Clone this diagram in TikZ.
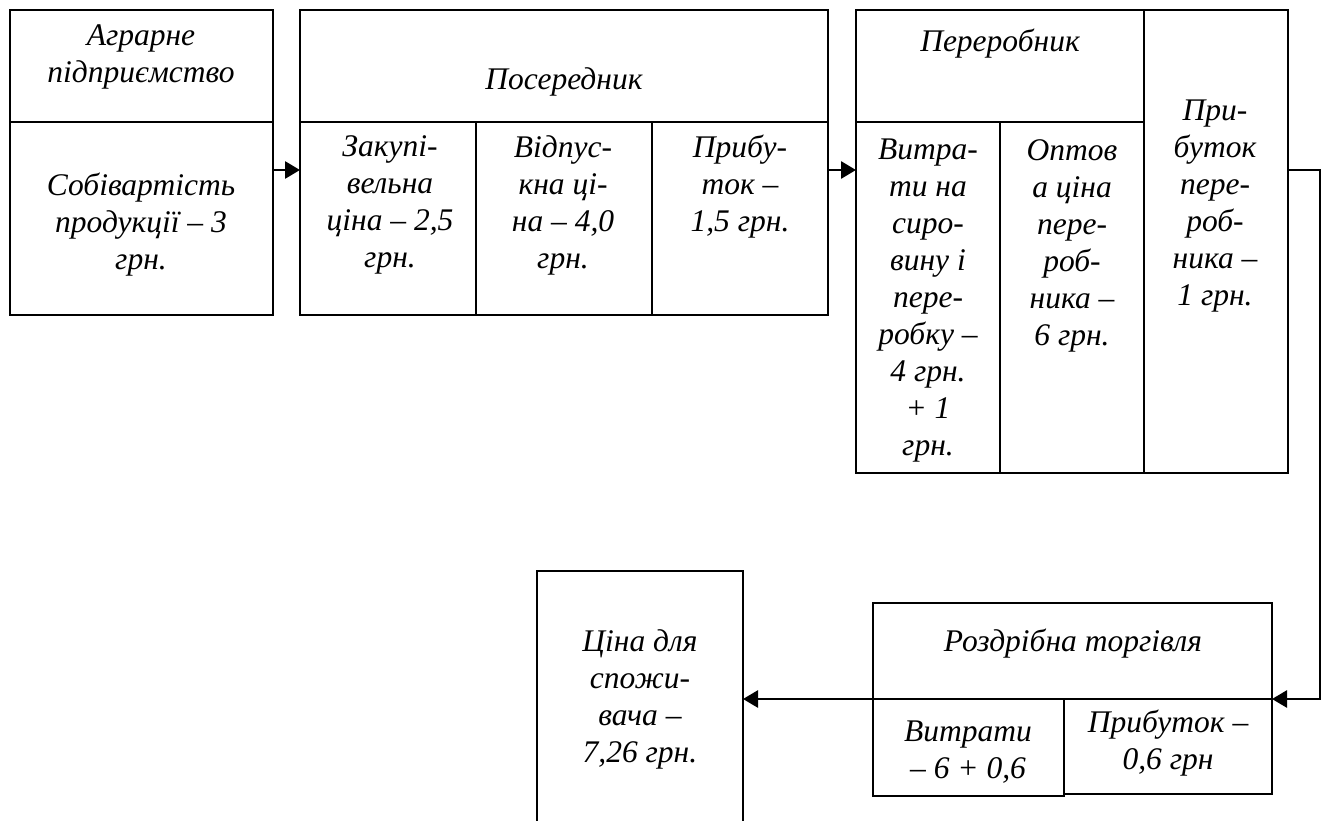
\documentclass[tikz,border=0pt]{standalone}
\usepackage{fontspec}
\setmainfont{Liberation Serif}
\usetikzlibrary{arrows.meta}
\tikzset{
  cell/.style={draw, line width=2pt, inner sep=0pt, outer sep=0pt},
  txt/.style={inner sep=0pt, align=center, font=\itshape\fontsize{31.5}{37}\selectfont},
  conn/.style={line width=2.8pt, -{Triangle[length=15pt,width=17pt]}}
}
\newcommand{\cellbox}[5]{% name, x1, y1, x2, y2
  \node[cell, minimum width={#4-#2}, minimum height={#5-#3}] (#1) at ({(#2+#4)/2},{(#3+#5)/2}) {};}
\begin{document}
\begin{tikzpicture}[x=1pt,y=-1pt]
\useasboundingbox[fill=white] (0,0) rectangle (1327,821);
% Agrarian enterprise
\cellbox{Ah}{10}{10}{273}{122}
\cellbox{Ab}{10}{122}{273}{315}
% Intermediary
\cellbox{Ph}{300}{10}{828}{122}
\cellbox{P1}{300}{122}{476}{315}
\cellbox{P2}{476}{122}{652}{315}
\cellbox{P3}{652}{122}{828}{315}
% Processor
\cellbox{Rh}{856}{10}{1144}{122}
\cellbox{R1}{856}{122}{1000}{473}
\cellbox{R2}{1000}{122}{1144}{473}
\cellbox{R3}{1144}{10}{1288}{473}
% Retail
\cellbox{Th}{873}{603}{1272}{699}
\cellbox{T1}{873}{699}{1064}{796}
\cellbox{T2}{1064}{699}{1272}{794}
% Consumer (open at bottom, cut by page)
\cellbox{C}{537}{571}{743}{860}

% texts
\node[txt] (tAh) at (141,57) {Аграрне\\підприємство};
\node[txt] (tAb) at (141,225) {Собівартість\\продукції – 3\\грн.};
\node[txt] (tPh) at (564,82) {Посередник};
\node[txt] (tP1) at (390,205) {Закупі-\\вельна\\ціна – 2,5\\грн.};
\node[txt] (tP2) at (563,205) {Відпус-\\кна ці-\\на – 4,0\\грн.};
\node[txt] (tP3) at (740,187) {Прибу-\\ток –\\1,5 грн.};
\node[txt] (tRh) at (1000,44) {Переробник};
\node[txt] (tR1) at (928,301) {Витра-\\ти на\\сиро-\\вину і\\пере-\\робку –\\4 грн.\\+ 1\\грн.};
\node[txt] (tR2) at (1072,246) {Оптов\\а ціна\\пере-\\роб-\\ника –\\6 грн.};
\node[txt] (tR3) at (1215,206) {При-\\буток\\пере-\\роб-\\ника –\\1 грн.};
\node[txt] (tTh) at (1073,644) {Роздрібна торгівля};
\node[txt] (tT1) at (968,752) {Витрати\\– 6 + 0,6};
\node[txt] (tT2) at (1168,743) {Прибуток –\\0,6 грн};
\node[txt] (tC) at (640,699) {Ціна для\\спожи-\\вача –\\7,26 грн.};

% connectors
\coordinate (y170) at (0,170);
\coordinate (rt) at (1320,699);
\draw[conn] (Ab.east |- y170) -- (P1.west |- y170);
\draw[conn] (P3.east |- y170) -- (R1.west |- y170);
\draw[conn] (R3.east |- y170) -| (rt) -- (Th.south east);
\draw[conn] (Th.south west) -- (C.east |- Th.south west);
\end{tikzpicture}
\end{document}
